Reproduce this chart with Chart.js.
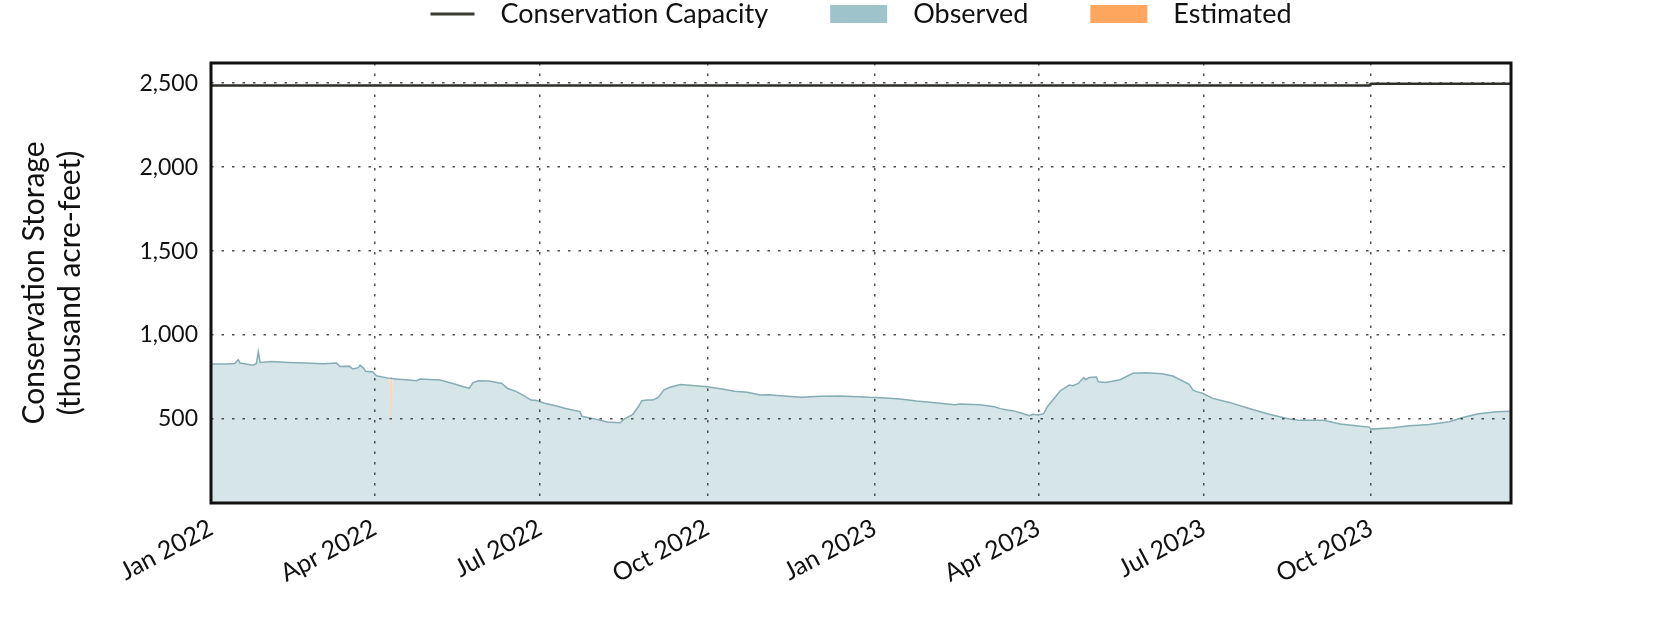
<!DOCTYPE html>
<html lang="en">
<head>
<meta charset="UTF-8">
<title>Conservation Storage</title>
<script src="https://cdn.jsdelivr.net/npm/chart.js"></script>
<style>
    body { margin: 0; background: #fff; }
</style>
</head>
<body>
<canvas id="myChart" width="1680" height="630"></canvas>
<script>
    // x values are days counted from 1 Jan 2022
    const obsDays = [0, 8, 13, 15, 16, 23, 25, 26, 27, 33, 43, 52, 62, 69, 71, 76, 78, 81, 82, 84, 85, 89, 91, 98, 99, 100,
        107, 113, 115, 126, 133, 139, 142, 144, 147, 153, 160, 163, 168, 172, 176, 179, 183, 189, 195, 203, 204,
        212, 218, 225, 227, 232, 235, 237, 240, 243, 246, 249, 252, 258, 260, 273, 282, 288, 295, 302, 307, 315,
        325, 335, 346, 356, 362, 369, 379, 388, 397, 409, 412, 423, 431, 434, 438, 441, 446, 450, 452, 455, 458,
        460, 463, 467, 472, 474, 477, 480, 481, 483, 487, 488, 492, 500, 507, 514, 523, 529, 538, 540, 542, 545,
        551, 560, 571, 582, 593, 599, 612, 621, 630, 637, 638, 650, 659, 670, 681, 688, 697, 707, 715];
    const obsValues = [827, 827, 831, 853, 833, 821, 831, 901, 837, 843, 837, 833, 829, 833, 813, 815, 798, 806, 821, 802, 784, 780, 758, 742, 440, 740,
        734, 728, 738, 732, 712, 692, 683, 716, 728, 726, 712, 683, 663, 639, 613, 611, 595, 581, 563, 544, 516,
        498, 482, 478, 498, 528, 573, 609, 613, 613, 629, 673, 688, 706, 704, 692, 677, 665, 659, 643, 645, 637,
        629, 635, 637, 633, 629, 627, 619, 607, 599, 585, 589, 585, 573, 562, 554, 550, 534, 520, 528, 524, 532,
        573, 613, 667, 702, 698, 712, 746, 734, 748, 750, 722, 718, 734, 772, 776, 770, 756, 706, 673, 663, 655,
        623, 599, 563, 528, 500, 492, 492, 470, 460, 452, 440, 448, 460, 468, 484, 508, 532, 544, 546];
    const estDays = [98, 99, 100];
    const estValues = [742, 744, 740];
    const capDays = [0, 637, 638, 715];
    const capValues = [2486, 2486, 2496, 2496];

    const seriesNames = ['Conservation Capacity', 'Observed', 'Estimated'];
    const xTickDays = [0, 90, 181, 273, 365, 455, 546, 638];
    const xTickLabels = ['Jan 2022', 'Apr 2022', 'Jul 2022', 'Oct 2022', 'Jan 2023', 'Apr 2023', 'Jul 2023', 'Oct 2023'];
    const yTicks = [500, 1000, 1500, 2000, 2500];

    function toPoints(days, values) {
        return days.map((d, i) => ({ x: d, y: values[i] }));
    }

    const notch = obsDays.indexOf(estDays[1]);
    const obsLine = '#87adb4';

    // legend drawn above the plot, centred on the plot area
    const topLegend = {
        id: 'topLegend',
        afterDraw(chart) {
            const ctx = chart.ctx;
            const area = chart.chartArea;
            ctx.save();
            ctx.font = '27px Lato';
            ctx.textBaseline = 'middle';
            const items = chart.data.datasets.filter(ds => ds.label).map(ds => ({
                text: ds.label,
                kind: ds.legendKind,
                color: ds.legendColor,
                handle: ds.legendKind === 'line' ? 44 : 57
            }));
            const gap = 26, spacing = 62, y = 14;
            let total = 0;
            items.forEach((it, i) => {
                it.w = it.handle + gap + ctx.measureText(it.text).width;
                total += it.w + (i ? spacing : 0);
            });
            let x = (area.left + area.right) / 2 - total / 2;
            items.forEach(it => {
                if (it.kind === 'line') {
                    ctx.strokeStyle = it.color;
                    ctx.lineWidth = 3;
                    ctx.beginPath();
                    ctx.moveTo(x, y);
                    ctx.lineTo(x + it.handle, y);
                    ctx.stroke();
                } else {
                    ctx.fillStyle = it.color;
                    ctx.fillRect(x, y - 9, it.handle, 18);
                }
                ctx.fillStyle = '#111';
                ctx.fillText(it.text, x + it.handle + gap, y);
                x += it.w + spacing;
            });
            ctx.restore();
        }
    };

    const frame = {
        id: 'frame',
        afterDraw(chart) {
            const a = chart.chartArea;
            const ctx = chart.ctx;
            ctx.save();
            ctx.strokeStyle = '#111';
            ctx.lineWidth = 3;
            ctx.strokeRect(a.left, a.top, a.right - a.left, a.bottom - a.top);
            ctx.restore();
        }
    };

    const gridStyle = {
        color: 'rgba(60,60,60,0.9)',
        lineWidth: 1.5,
        drawTicks: false,
        z: 1
    };
    const gridDash = { display: false, dash: [2.5, 8] };

    new Chart(document.getElementById('myChart'), {
        type: 'line',
        data: {
            datasets: [{
                label: seriesNames[0],
                data: toPoints(capDays, capValues),
                borderColor: '#2f2f27',
                borderWidth: 2.5,
                pointRadius: 0,
                fill: false,
                legendKind: 'line',
                legendColor: '#3a3a30'
            }, {
                // outline of the observed area, left open over the estimated day
                data: toPoints(obsDays, obsValues),
                borderColor: obsLine,
                borderWidth: 1.5,
                pointRadius: 0,
                fill: false,
                segment: {
                    borderColor: c => (c.p0DataIndex === notch - 1 || c.p0DataIndex === notch) ? 'rgba(0,0,0,0)' : undefined
                }
            }, {
                label: seriesNames[1],
                data: toPoints(obsDays, obsValues),
                borderWidth: 0,
                backgroundColor: '#d6e5e8',
                pointRadius: 0,
                fill: 'origin',
                legendKind: 'box',
                legendColor: '#9fc3ca'
            }, {
                label: seriesNames[2],
                data: toPoints(estDays, estValues),
                borderColor: obsLine,
                borderWidth: 1.5,
                backgroundColor: '#fbd8bc',
                pointRadius: 0,
                fill: 'origin',
                legendKind: 'box',
                legendColor: '#ffa65e'
            }]
        },
        options: {
            responsive: false,
            animation: false,
            devicePixelRatio: 1,
            layout: { padding: { top: 63, right: 169, left: 0, bottom: 0 } },
            plugins: {
                legend: { display: false },
                tooltip: { enabled: false }
            },
            scales: {
                x: {
                    type: 'linear',
                    min: 0,
                    max: 715,
                    afterBuildTicks: s => { s.ticks = xTickDays.map(v => ({ value: v })); },
                    afterFit: s => { s.height = 127; },
                    grid: gridStyle,
                    border: gridDash,
                    ticks: {
                        autoSkip: false,
                        minRotation: 28,
                        maxRotation: 28,
                        padding: 10,
                        color: '#111',
                        font: { family: 'Lato', size: 25 },
                        callback: v => xTickLabels[xTickDays.indexOf(v)]
                    }
                },
                y: {
                    min: 0,
                    max: 2620,
                    afterBuildTicks: s => { s.ticks = yTicks.map(v => ({ value: v })); },
                    afterFit: s => { s.width = 211; },
                    grid: gridStyle,
                    border: gridDash,
                    ticks: {
                        padding: 13,
                        color: '#111',
                        font: { family: 'Lato', size: 23 },
                        callback: v => v.toLocaleString('en-US')
                    },
                    title: {
                        display: true,
                        text: ['Conservation Storage', '(thousand acre-feet)'],
                        color: '#111',
                        font: { family: 'Lato', size: 30 },
                        padding: { top: 16, bottom: 0 }
                    }
                }
            }
        },
        plugins: [topLegend, frame]
    });
</script>
</body>
</html>
